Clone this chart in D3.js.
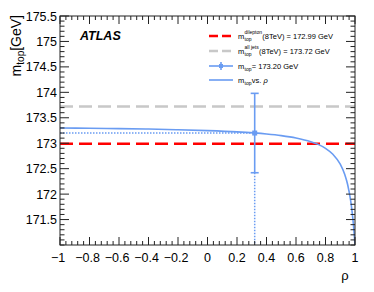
<!DOCTYPE html>
<html>
<head>
<meta charset="utf-8">
<script src="https://cdn.jsdelivr.net/npm/d3@7"></script>
<style>
body { margin: 0; background: #fff; }
text { font-family: Arial, "Liberation Sans", Helvetica, sans-serif; }
</style>
</head>
<body>
<div id="canvas"></div>
<script>
// curve m_top vs rho
const rhoValues = [-1, -0.8, -0.6, -0.4, -0.2, 0, 0.2, 0.4, 0.5, 0.6, 0.7, 0.75, 0.8, 0.85, 0.9, 0.93, 0.95, 0.97, 0.98, 0.99, 1.0];
const mtopValues = [173.30, 173.294, 173.287, 173.278, 173.265, 173.248, 173.223, 173.182, 173.15, 173.104, 173.031, 172.977, 172.90, 172.783, 172.588, 172.389, 172.188, 171.881, 171.658, 171.38, 171.0];

const dileptonMass = 172.99;
const allJetsMass = 173.72;
const combRho = 0.32;
const combMass = 173.20;
const combErr = [172.42, 173.98];

const xTicks = [-1, -0.8, -0.6, -0.4, -0.2, 0, 0.2, 0.4, 0.6, 0.8, 1];
const yTicks = [171.5, 172, 172.5, 173, 173.5, 174, 174.5, 175, 175.5];

const width = 374, height = 292;
const margin = { top: 16, left: 60, bottom: 47, right: 19 };
const iwidth = width - margin.left - margin.right;
const iheight = height - margin.top - margin.bottom;

const blue = "#6a9cf2";
const red = "#ff0000";
const grey = "#c8c8c8";

const svg = d3.select("#canvas").append("svg")
    .attr("width", width)
    .attr("height", height);

const g = svg.append("g").attr("transform", `translate(${margin.left},${margin.top})`);

const x = d3.scaleLinear().domain([-1, 1]).range([0, iwidth]);
const y = d3.scaleLinear().domain([171, 175.5]).range([iheight, 0]);

svg.append("defs").append("clipPath").attr("id", "clip")
    .append("rect").attr("width", iwidth).attr("height", iheight);

const plot = g.append("g").attr("clip-path", "url(#clip)");

// horizontal reference lines
plot.append("line")
    .attr("x1", 0).attr("x2", iwidth)
    .attr("y1", y(allJetsMass)).attr("y2", y(allJetsMass))
    .attr("stroke", grey).attr("stroke-width", 2.5)
    .attr("stroke-dasharray", "13,6");

plot.append("line")
    .attr("x1", 0).attr("x2", iwidth)
    .attr("y1", y(dileptonMass)).attr("y2", y(dileptonMass))
    .attr("stroke", red).attr("stroke-width", 2.5)
    .attr("stroke-dasharray", "13,6");

// dotted guide lines to the combined point
plot.append("path")
    .attr("d", `M0,${y(combMass)}H${x(combRho)}`)
    .attr("stroke", blue).attr("stroke-width", 1.5)
    .attr("stroke-dasharray", "1.5,1.5").attr("fill", "none");
plot.append("path")
    .attr("d", `M${x(combRho)},${y(combErr[0])}V${iheight}`)
    .attr("stroke", blue).attr("stroke-width", 1.5)
    .attr("stroke-dasharray", "1.5,1.5").attr("fill", "none");

// curve
const curve = d3.line()
    .x((d, i) => x(rhoValues[i]))
    .y(d => y(d))
    .curve(d3.curveMonotoneX);

plot.append("path")
    .datum(mtopValues)
    .attr("d", curve)
    .attr("fill", "none")
    .attr("stroke", blue)
    .attr("stroke-width", 1.6);

// error bar
const cx = x(combRho);
plot.append("line")
    .attr("x1", cx).attr("x2", cx)
    .attr("y1", y(combErr[0])).attr("y2", y(combErr[1]))
    .attr("stroke", blue).attr("stroke-width", 1.6);
combErr.forEach(v => {
    plot.append("line")
        .attr("x1", cx - 4).attr("x2", cx + 4)
        .attr("y1", y(v)).attr("y2", y(v))
        .attr("stroke", blue).attr("stroke-width", 1.6);
});
plot.append("rect")
    .attr("x", cx - 2.5).attr("y", y(combMass) - 2.5)
    .attr("width", 5).attr("height", 5)
    .attr("fill", blue);

// ticks, ROOT style (all four sides)
const axisColor = "#222";
const xMinor = d3.range(-1, 1.0001, 0.04);
const yMinor = d3.range(171, 175.5001, 0.1);
const ticks = g.append("g").attr("stroke", axisColor).attr("stroke-width", 1);

xMinor.forEach(v => {
    const major = xTicks.some(t => Math.abs(t - v) < 1e-6);
    const len = major ? 8 : 4;
    ticks.append("line").attr("x1", x(v)).attr("x2", x(v)).attr("y1", iheight).attr("y2", iheight - len);
    ticks.append("line").attr("x1", x(v)).attr("x2", x(v)).attr("y1", 0).attr("y2", len);
});
yMinor.forEach(v => {
    const major = yTicks.some(t => Math.abs(t - v) < 1e-6);
    const len = major ? 9 : 4.5;
    ticks.append("line").attr("x1", 0).attr("x2", len).attr("y1", y(v)).attr("y2", y(v));
    ticks.append("line").attr("x1", iwidth).attr("x2", iwidth - len).attr("y1", y(v)).attr("y2", y(v));
});

g.append("rect")
    .attr("width", iwidth).attr("height", iheight)
    .attr("fill", "none").attr("stroke", axisColor).attr("stroke-width", 1);

// tick labels
const fmt = d3.format("");
g.selectAll(".xlab").data(xTicks).enter().append("text")
    .attr("class", "xlab")
    .attr("x", d => x(d) + (d < 0 ? -2 : 0))
    .attr("y", iheight + 17)
    .attr("text-anchor", "middle")
    .attr("font-size", 12.5)
    .text(d => fmt(d));

g.selectAll(".ylab").data(yTicks).enter().append("text")
    .attr("class", "ylab")
    .attr("x", -3)
    .attr("y", d => y(d) + 4.5)
    .attr("text-anchor", "end")
    .attr("font-size", 12.5)
    .text(d => d);

// axis titles
svg.append("text")
    .attr("x", 345).attr("y", 280)
    .attr("font-size", 13)
    .attr("text-anchor", "middle")
    .text("ρ");

const ytitle = svg.append("text")
    .attr("transform", `translate(21,${margin.top - 1}) rotate(-90)`)
    .attr("text-anchor", "end")
    .attr("font-size", 14);
ytitle.append("tspan").text("m");
ytitle.append("tspan").attr("font-size", 10).attr("dy", 3).text("top");
ytitle.append("tspan").attr("dy", -3).text("[GeV]");

// ATLAS label
svg.append("text")
    .attr("x", 80).attr("y", 40)
    .attr("font-size", 12.5)
    .attr("font-weight", "bold")
    .attr("font-style", "italic")
    .text("ATLAS");

// legend
const legend = svg.append("g");
const lx1 = 209, lx2 = 233, tx = 238;
const rows = [36, 51, 66, 80];

legend.append("line").attr("x1", lx1).attr("x2", lx2).attr("y1", rows[0]).attr("y2", rows[0])
    .attr("stroke", red).attr("stroke-width", 2.5).attr("stroke-dasharray", "9,4");
legend.append("line").attr("x1", lx1).attr("x2", lx2).attr("y1", rows[1]).attr("y2", rows[1])
    .attr("stroke", grey).attr("stroke-width", 2.5).attr("stroke-dasharray", "9,4");
legend.append("line").attr("x1", lx1).attr("x2", lx2).attr("y1", rows[2]).attr("y2", rows[2])
    .attr("stroke", blue).attr("stroke-width", 1.6);
legend.append("line").attr("x1", (lx1 + lx2) / 2).attr("x2", (lx1 + lx2) / 2).attr("y1", rows[2] - 4).attr("y2", rows[2] + 4)
    .attr("stroke", blue).attr("stroke-width", 1.6);
legend.append("rect").attr("x", (lx1 + lx2) / 2 - 2).attr("y", rows[2] - 2).attr("width", 4).attr("height", 4)
    .attr("fill", blue);
legend.append("line").attr("x1", lx1).attr("x2", lx2).attr("y1", rows[3]).attr("y2", rows[3])
    .attr("stroke", blue).attr("stroke-width", 1.6);

function entry(yPos, sup, rest, greek) {
    const base = yPos + 2.5;
    const m = legend.append("text").attr("x", tx).attr("y", base).attr("font-size", 7.5).text("m");
    let xPos = tx + m.node().getComputedTextLength() + 0.3;
    const sub = legend.append("text").attr("x", xPos).attr("y", base + 2).attr("font-size", 5).text("top");
    let w = sub.node().getComputedTextLength();
    if (sup) {
        const s = legend.append("text").attr("x", xPos).attr("y", base - 4.5).attr("font-size", 5).text(sup);
        w = Math.max(w, s.node().getComputedTextLength());
    }
    const t = legend.append("text").attr("x", xPos + w + 0.3).attr("y", base).attr("font-size", 7.5).text(rest);
    if (greek) t.append("tspan").attr("font-style", "italic").text(greek);
}
entry(rows[0], "dilepton", "(8TeV) = 172.99 GeV");
entry(rows[1], "all jets", "(8TeV) = 173.72 GeV");
entry(rows[2], null, " = 173.20 GeV");
entry(rows[3], null, " vs. ", "ρ");
</script>
</body>
</html>
